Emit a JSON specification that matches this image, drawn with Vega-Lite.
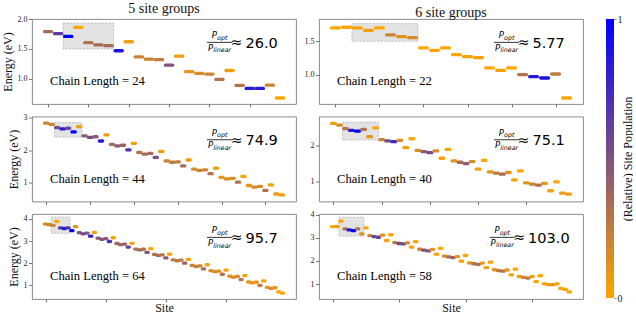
{
"$schema": "https://vega.github.io/schema/vega-lite/v6.json",
"padding": {"left": 0, "top": 0, "right": 0, "bottom": 0},
"datasets": {
"tl": [
{"site":1,"energy":1.79,"pop":0.35},{"site":2,"energy":1.756,"pop":0.65},{"site":3,"energy":1.71,"pop":1.0},{"site":4,"energy":1.86,"pop":0.0},
{"site":5,"energy":1.605,"pop":0.3},{"site":6,"energy":1.567,"pop":0.35},{"site":7,"energy":1.556,"pop":0.35},{"site":8,"energy":1.47,"pop":0.9},
{"site":9,"energy":1.62,"pop":0.05},{"site":10,"energy":1.367,"pop":0.2},{"site":11,"energy":1.33,"pop":0.2},{"site":12,"energy":1.32,"pop":0.25},
{"site":13,"energy":1.23,"pop":0.5},{"site":14,"energy":1.38,"pop":0.05},{"site":15,"energy":1.12,"pop":0.1},{"site":16,"energy":1.09,"pop":0.15},
{"site":17,"energy":1.08,"pop":0.2},{"site":18,"energy":0.99,"pop":0.3},{"site":19,"energy":1.14,"pop":0.05},{"site":20,"energy":0.89,"pop":0.3},
{"site":21,"energy":0.84,"pop":0.85},{"site":22,"energy":0.84,"pop":0.85},{"site":23,"energy":0.895,"pop":0.2},{"site":24,"energy":0.68,"pop":0.0}],
"tr": [
{"site":1,"energy":1.70,"pop":0.0},{"site":2,"energy":1.71,"pop":0.0},{"site":3,"energy":1.70,"pop":0.02},{"site":4,"energy":1.665,"pop":0.05},
{"site":5,"energy":1.70,"pop":0.0},{"site":6,"energy":1.595,"pop":0.2},{"site":7,"energy":1.57,"pop":0.12},{"site":8,"energy":1.555,"pop":0.15},
{"site":9,"energy":1.40,"pop":0.0},{"site":10,"energy":1.365,"pop":0.02},{"site":11,"energy":1.40,"pop":0.0},{"site":12,"energy":1.30,"pop":0.0},
{"site":13,"energy":1.27,"pop":0.02},{"site":14,"energy":1.255,"pop":0.03},{"site":15,"energy":1.10,"pop":0.0},{"site":16,"energy":1.065,"pop":0.02},
{"site":17,"energy":1.10,"pop":0.0},{"site":18,"energy":1.00,"pop":0.3},{"site":19,"energy":0.97,"pop":0.85},{"site":20,"energy":0.95,"pop":0.9},
{"site":21,"energy":1.01,"pop":0.25},{"site":22,"energy":0.65,"pop":0.0}],
"ml": [
{"site":1,"energy":2.825,"pop":0.2},{"site":2,"energy":2.79,"pop":0.2},{"site":3,"energy":2.69,"pop":0.55},{"site":4,"energy":2.65,"pop":0.85},
{"site":5,"energy":2.67,"pop":0.55},{"site":6,"energy":2.56,"pop":1.0},{"site":7,"energy":2.72,"pop":0.05},{"site":8,"energy":2.44,"pop":0.45},
{"site":9,"energy":2.39,"pop":0.55},{"site":10,"energy":2.41,"pop":0.45},{"site":11,"energy":2.28,"pop":0.85},{"site":12,"energy":2.47,"pop":0.05},
{"site":13,"energy":2.18,"pop":0.35},{"site":14,"energy":2.13,"pop":0.45},{"site":15,"energy":2.15,"pop":0.4},{"site":16,"energy":2.01,"pop":0.7},
{"site":17,"energy":2.21,"pop":0.05},{"site":18,"energy":1.93,"pop":0.3},{"site":19,"energy":1.88,"pop":0.35},{"site":20,"energy":1.90,"pop":0.35},
{"site":21,"energy":1.78,"pop":0.5},{"site":22,"energy":1.96,"pop":0.05},{"site":23,"energy":1.67,"pop":0.2},{"site":24,"energy":1.63,"pop":0.25},
{"site":25,"energy":1.64,"pop":0.25},{"site":26,"energy":1.52,"pop":0.35},{"site":27,"energy":1.70,"pop":0.05},{"site":28,"energy":1.42,"pop":0.15},
{"site":29,"energy":1.38,"pop":0.2},{"site":30,"energy":1.40,"pop":0.2},{"site":31,"energy":1.28,"pop":0.3},{"site":32,"energy":1.45,"pop":0.05},
{"site":33,"energy":1.17,"pop":0.1},{"site":34,"energy":1.12,"pop":0.15},{"site":35,"energy":1.14,"pop":0.15},{"site":36,"energy":1.02,"pop":0.3},
{"site":37,"energy":1.20,"pop":0.02},{"site":38,"energy":0.92,"pop":0.1},{"site":39,"energy":0.87,"pop":0.15},{"site":40,"energy":0.89,"pop":0.15},
{"site":41,"energy":0.77,"pop":0.3},{"site":42,"energy":0.94,"pop":0.02},{"site":43,"energy":0.66,"pop":0.05},{"site":44,"energy":0.63,"pop":0.05}],
"mr": [
{"site":1,"energy":2.60,"pop":0.05},{"site":2,"energy":2.555,"pop":0.15},{"site":3,"energy":2.455,"pop":0.3},{"site":4,"energy":2.41,"pop":0.85},
{"site":5,"energy":2.39,"pop":1.0},{"site":6,"energy":2.435,"pop":0.3},{"site":7,"energy":2.236,"pop":0.1},{"site":8,"energy":2.48,"pop":0.0},
{"site":9,"energy":2.155,"pop":0.2},{"site":10,"energy":2.12,"pop":0.55},{"site":11,"energy":2.10,"pop":0.75},{"site":12,"energy":2.136,"pop":0.15},
{"site":13,"energy":1.936,"pop":0.02},{"site":14,"energy":2.18,"pop":0.0},{"site":15,"energy":1.864,"pop":0.15},{"site":16,"energy":1.827,"pop":0.45},
{"site":17,"energy":1.80,"pop":0.55},{"site":18,"energy":1.845,"pop":0.15},{"site":19,"energy":1.645,"pop":0.02},{"site":20,"energy":1.89,"pop":0.0},
{"site":21,"energy":1.573,"pop":0.1},{"site":22,"energy":1.536,"pop":0.35},{"site":23,"energy":1.50,"pop":0.45},{"site":24,"energy":1.555,"pop":0.15},
{"site":25,"energy":1.345,"pop":0.02},{"site":26,"energy":1.59,"pop":0.0},{"site":27,"energy":1.27,"pop":0.1},{"site":28,"energy":1.236,"pop":0.25},
{"site":29,"energy":1.21,"pop":0.35},{"site":30,"energy":1.255,"pop":0.1},{"site":31,"energy":1.055,"pop":0.02},{"site":32,"energy":1.30,"pop":0.0},
{"site":33,"energy":0.973,"pop":0.1},{"site":34,"energy":0.936,"pop":0.2},{"site":35,"energy":0.91,"pop":0.3},{"site":36,"energy":0.955,"pop":0.1},
{"site":37,"energy":0.755,"pop":0.02},{"site":38,"energy":1.0,"pop":0.0},{"site":39,"energy":0.69,"pop":0.05},{"site":40,"energy":0.664,"pop":0.05}],
"bl": [
{"site":1,"energy":3.77,"pop":0.15},{"site":2,"energy":3.74,"pop":0.2},{"site":3,"energy":3.71,"pop":0.2},{"site":4,"energy":3.89,"pop":0.0},
{"site":5,"energy":3.60,"pop":0.65},{"site":6,"energy":3.57,"pop":0.85},{"site":7,"energy":3.60,"pop":0.7},{"site":8,"energy":3.47,"pop":1.0},
{"site":9,"energy":3.65,"pop":0.1},{"site":10,"energy":3.38,"pop":0.5},{"site":11,"energy":3.33,"pop":0.55},{"site":12,"energy":3.36,"pop":0.5},
{"site":13,"energy":3.22,"pop":0.8},{"site":14,"energy":3.39,"pop":0.05},{"site":15,"energy":3.13,"pop":0.45},{"site":16,"energy":3.08,"pop":0.5},
{"site":17,"energy":3.11,"pop":0.45},{"site":18,"energy":2.98,"pop":0.7},{"site":19,"energy":3.15,"pop":0.02},{"site":20,"energy":2.89,"pop":0.35},
{"site":21,"energy":2.84,"pop":0.4},{"site":22,"energy":2.86,"pop":0.4},{"site":23,"energy":2.73,"pop":0.6},{"site":24,"energy":2.90,"pop":0.02},
{"site":25,"energy":2.64,"pop":0.3},{"site":26,"energy":2.60,"pop":0.35},{"site":27,"energy":2.63,"pop":0.3},{"site":28,"energy":2.49,"pop":0.5},
{"site":29,"energy":2.66,"pop":0.02},{"site":30,"energy":2.40,"pop":0.3},{"site":31,"energy":2.35,"pop":0.35},{"site":32,"energy":2.38,"pop":0.3},
{"site":33,"energy":2.24,"pop":0.45},{"site":34,"energy":2.41,"pop":0.02},{"site":35,"energy":2.15,"pop":0.25},{"site":36,"energy":2.11,"pop":0.25},
{"site":37,"energy":2.14,"pop":0.25},{"site":38,"energy":2.00,"pop":0.4},{"site":39,"energy":2.17,"pop":0.02},{"site":40,"energy":1.90,"pop":0.2},
{"site":41,"energy":1.85,"pop":0.2},{"site":42,"energy":1.88,"pop":0.2},{"site":43,"energy":1.74,"pop":0.35},{"site":44,"energy":1.93,"pop":0.02},
{"site":45,"energy":1.66,"pop":0.15},{"site":46,"energy":1.62,"pop":0.15},{"site":47,"energy":1.64,"pop":0.15},{"site":48,"energy":1.50,"pop":0.3},
{"site":49,"energy":1.69,"pop":0.02},{"site":50,"energy":1.41,"pop":0.1},{"site":51,"energy":1.37,"pop":0.15},{"site":52,"energy":1.40,"pop":0.15},
{"site":53,"energy":1.26,"pop":0.3},{"site":54,"energy":1.44,"pop":0.02},{"site":55,"energy":1.15,"pop":0.1},{"site":56,"energy":1.11,"pop":0.1},
{"site":57,"energy":1.14,"pop":0.1},{"site":58,"energy":1.00,"pop":0.25},{"site":59,"energy":1.20,"pop":0.02},{"site":60,"energy":0.91,"pop":0.1},
{"site":61,"energy":0.86,"pop":0.15},{"site":62,"energy":0.89,"pop":0.1},{"site":63,"energy":0.70,"pop":0.0},{"site":64,"energy":0.65,"pop":0.0}],
"br": [
{"site":1,"energy":3.495,"pop":0.0},{"site":2,"energy":3.495,"pop":0.05},{"site":3,"energy":3.73,"pop":0.0},{"site":4,"energy":3.39,"pop":0.3},
{"site":5,"energy":3.35,"pop":0.85},{"site":6,"energy":3.32,"pop":1.0},{"site":7,"energy":3.39,"pop":0.3},{"site":8,"energy":3.18,"pop":0.1},
{"site":9,"energy":3.44,"pop":0.0},{"site":10,"energy":3.10,"pop":0.2},{"site":11,"energy":3.06,"pop":0.6},{"site":12,"energy":3.03,"pop":0.6},
{"site":13,"energy":3.12,"pop":0.1},{"site":14,"energy":2.89,"pop":0.02},{"site":15,"energy":3.14,"pop":0.0},{"site":16,"energy":2.80,"pop":0.25},
{"site":17,"energy":2.76,"pop":0.55},{"site":18,"energy":2.745,"pop":0.55},{"site":19,"energy":2.79,"pop":0.15},{"site":20,"energy":2.60,"pop":0.02},
{"site":21,"energy":2.84,"pop":0.0},{"site":22,"energy":2.51,"pop":0.2},{"site":23,"energy":2.47,"pop":0.5},{"site":24,"energy":2.44,"pop":0.5},
{"site":25,"energy":2.50,"pop":0.1},{"site":26,"energy":2.30,"pop":0.02},{"site":27,"energy":2.55,"pop":0.0},{"site":28,"energy":2.21,"pop":0.15},
{"site":29,"energy":2.18,"pop":0.35},{"site":30,"energy":2.15,"pop":0.4},{"site":31,"energy":2.19,"pop":0.1},{"site":32,"energy":1.99,"pop":0.02},
{"site":33,"energy":2.24,"pop":0.0},{"site":34,"energy":1.92,"pop":0.1},{"site":35,"energy":1.88,"pop":0.3},{"site":36,"energy":1.85,"pop":0.35},
{"site":37,"energy":1.91,"pop":0.1},{"site":38,"energy":1.71,"pop":0.02},{"site":39,"energy":1.95,"pop":0.0},{"site":40,"energy":1.62,"pop":0.1},
{"site":41,"energy":1.58,"pop":0.25},{"site":42,"energy":1.56,"pop":0.3},{"site":43,"energy":1.61,"pop":0.1},{"site":44,"energy":1.40,"pop":0.02},
{"site":45,"energy":1.65,"pop":0.0},{"site":46,"energy":1.33,"pop":0.05},{"site":47,"energy":1.29,"pop":0.2},{"site":48,"energy":1.26,"pop":0.25},
{"site":49,"energy":1.32,"pop":0.05},{"site":50,"energy":1.10,"pop":0.0},{"site":51,"energy":1.36,"pop":0.0},{"site":52,"energy":1.01,"pop":0.02},
{"site":53,"energy":0.97,"pop":0.05},{"site":54,"energy":0.97,"pop":0.1},{"site":55,"energy":1.01,"pop":0.02},{"site":56,"energy":0.81,"pop":0.0},
{"site":57,"energy":0.77,"pop":0.0},{"site":58,"energy":0.66,"pop":0.0}]
},
"spacing": 22,
"hconcat": [
{"columns": 2, "bounds": "flush", "spacing": {"row": 12.5, "column": 23},
 "concat": [
 {"width": 264, "height": 85, "title": {"text": "5 site groups"},
  "layer": [
   {"data": {"values": [{}]}, "mark": {"type": "rect", "fill": "#e3e3e3", "stroke": "#a0a0a0", "strokeDash": [2, 1.5], "strokeWidth": 0.6},
    "encoding": {"x": {"datum": 2.5}, "x2": {"datum": 7.5}, "y": {"datum": 1.5}, "y2": {"datum": 1.933}}},
   {"data": {"name": "tl"}, "mark": {"type": "tick", "orient": "horizontal", "size": 10.5, "thickness": 3.3, "cornerRadius": 1.6, "opacity": 1},
    "encoding": {
     "x": {"field": "site", "type": "quantitative", "scale": {"domain": [-0.59, 25.59], "nice": false, "zero": false}, "axis": {"values": [1,2,3,4,5,6,7,8,9,10,11,12,13,14,15,16,17,18,19,20,21,22,23,24], "labels": false, "title": null}},
     "y": {"field": "energy", "type": "quantitative", "scale": {"domain": [0.58, 2.0], "nice": false, "zero": false}, "axis": {"values": [1.0, 1.5, 2.0], "format": ".1f", "title": "Energy (eV)", "labelOverlap": false}},
     "color": {"field": "pop", "type": "quantitative", "scale": {"domain": [0, 1], "range": ["#ffa500", "#0000ff"], "interpolate": "rgb"}, "legend": null}}},
   {"data": {"values": [{}]}, "mark": {"type": "text", "text": "Chain Length = 24", "font": "Liberation Serif", "fontSize": 12.6, "align": "left", "baseline": "alphabetic", "color": "#000"},
    "encoding": {"x": {"datum": 1.195}, "y": {"datum": 0.892}}},
   {"data": {"values": [{}]}, "encoding": {"x": {"datum": 18.0}, "y": {"datum": 1.611}},
    "layer": [
     {"mark": {"type": "tick", "orient": "horizontal", "size": 25, "thickness": 0.8, "color": "#000", "opacity": 1}},
     {"mark": {"type": "text", "text": "P", "font": "DejaVu Sans", "fontStyle": "italic", "fontSize": 8.5, "align": "left", "baseline": "alphabetic", "dx": -7.7, "dy": -4, "color": "#000"}},
     {"mark": {"type": "text", "text": "opt", "font": "DejaVu Sans", "fontStyle": "italic", "fontSize": 6.3, "align": "left", "baseline": "alphabetic", "dx": -2.4, "dy": -2.5, "color": "#000"}},
     {"mark": {"type": "text", "text": "P", "font": "DejaVu Sans", "fontStyle": "italic", "fontSize": 8.5, "align": "left", "baseline": "alphabetic", "dx": -11.5, "dy": 8.6, "color": "#000"}},
     {"mark": {"type": "text", "text": "linear", "font": "DejaVu Sans", "fontStyle": "italic", "fontSize": 6.3, "align": "left", "baseline": "alphabetic", "dx": -6.2, "dy": 10.2, "color": "#000"}},
     {"mark": {"type": "text", "text": "≈", "font": "DejaVu Sans", "fontSize": 14, "align": "center", "baseline": "alphabetic", "dx": 17, "dy": 5, "color": "#000"}},
     {"mark": {"type": "text", "text": "26.0", "font": "DejaVu Sans", "fontSize": 14.5, "align": "left", "baseline": "alphabetic", "dx": 26, "dy": 5.5, "color": "#000"}}
    ]}
  ]},
 {"width": 264, "height": 85, "title": {"text": "6 site groups"},
  "layer": [
   {"data": {"values": [{}]}, "mark": {"type": "rect", "fill": "#e3e3e3", "stroke": "#a0a0a0", "strokeDash": [2, 1.5], "strokeWidth": 0.6},
    "encoding": {"x": {"datum": 2.5}, "x2": {"datum": 8.5}, "y": {"datum": 1.5}, "y2": {"datum": 1.765}}},
   {"data": {"name": "tr"}, "mark": {"type": "tick", "orient": "horizontal", "size": 11, "thickness": 3.3, "cornerRadius": 1.6, "opacity": 1},
    "encoding": {
     "x": {"field": "site", "type": "quantitative", "scale": {"domain": [-0.49, 23.49], "nice": false, "zero": false}, "axis": {"values": [1,2,3,4,5,6,7,8,9,10,11,12,13,14,15,16,17,18,19,20,21,22], "labels": false, "title": null}},
     "y": {"field": "energy", "type": "quantitative", "scale": {"domain": [0.56, 1.834], "nice": false, "zero": false}, "axis": {"values": [1.0, 1.5], "format": ".1f", "title": null, "labelOverlap": false}},
     "color": {"field": "pop", "type": "quantitative", "scale": {"domain": [0, 1], "range": ["#ffa500", "#0000ff"], "interpolate": "rgb"}, "legend": null}}},
   {"data": {"values": [{}]}, "mark": {"type": "text", "text": "Chain Length = 22", "font": "Liberation Serif", "fontSize": 12.6, "align": "left", "baseline": "alphabetic", "color": "#000"},
    "encoding": {"x": {"datum": 1.145}, "y": {"datum": 0.840}}},
   {"data": {"values": [{}]}, "encoding": {"x": {"datum": 16.54}, "y": {"datum": 1.485}},
    "layer": [
     {"mark": {"type": "tick", "orient": "horizontal", "size": 25, "thickness": 0.8, "color": "#000", "opacity": 1}},
     {"mark": {"type": "text", "text": "P", "font": "DejaVu Sans", "fontStyle": "italic", "fontSize": 8.5, "align": "left", "baseline": "alphabetic", "dx": -7.7, "dy": -4, "color": "#000"}},
     {"mark": {"type": "text", "text": "opt", "font": "DejaVu Sans", "fontStyle": "italic", "fontSize": 6.3, "align": "left", "baseline": "alphabetic", "dx": -2.4, "dy": -2.5, "color": "#000"}},
     {"mark": {"type": "text", "text": "P", "font": "DejaVu Sans", "fontStyle": "italic", "fontSize": 8.5, "align": "left", "baseline": "alphabetic", "dx": -11.5, "dy": 8.6, "color": "#000"}},
     {"mark": {"type": "text", "text": "linear", "font": "DejaVu Sans", "fontStyle": "italic", "fontSize": 6.3, "align": "left", "baseline": "alphabetic", "dx": -6.2, "dy": 10.2, "color": "#000"}},
     {"mark": {"type": "text", "text": "≈", "font": "DejaVu Sans", "fontSize": 14, "align": "center", "baseline": "alphabetic", "dx": 17, "dy": 5, "color": "#000"}},
     {"mark": {"type": "text", "text": "5.77", "font": "DejaVu Sans", "fontSize": 14.5, "align": "left", "baseline": "alphabetic", "dx": 26, "dy": 5.5, "color": "#000"}}
    ]}
  ]},
 {"width": 264, "height": 85,
  "layer": [
   {"data": {"values": [{}]}, "mark": {"type": "rect", "fill": "#e3e3e3", "stroke": "#a0a0a0", "strokeDash": [2, 1.5], "strokeWidth": 0.6},
    "encoding": {"x": {"datum": 2.5}, "x2": {"datum": 7.5}, "y": {"datum": 2.40}, "y2": {"datum": 2.845}}},
   {"data": {"name": "ml"}, "mark": {"type": "tick", "orient": "horizontal", "size": 6.5, "thickness": 3.3, "cornerRadius": 1.6, "opacity": 1},
    "encoding": {
     "x": {"field": "site", "type": "quantitative", "scale": {"domain": [-1.59, 46.59], "nice": false, "zero": false}, "axis": {"values": [1,2,3,4,5,6,7,8,9,10,11,12,13,14,15,16,17,18,19,20,21,22,23,24,25,26,27,28,29,30,31,32,33,34,35,36,37,38,39,40,41,42,43,44], "labels": false, "title": null}},
     "y": {"field": "energy", "type": "quantitative", "scale": {"domain": [0.43, 3.03], "nice": false, "zero": false}, "axis": {"values": [1, 2, 3], "format": "d", "title": "Energy (eV)", "labelOverlap": false}},
     "color": {"field": "pop", "type": "quantitative", "scale": {"domain": [0, 1], "range": ["#ffa500", "#0000ff"], "interpolate": "rgb"}, "legend": null}}},
   {"data": {"values": [{}]}, "mark": {"type": "text", "text": "Chain Length = 44", "font": "Liberation Serif", "fontSize": 12.6, "align": "left", "baseline": "alphabetic", "color": "#000"},
    "encoding": {"x": {"datum": 1.695}, "y": {"datum": 1.002}}},
   {"data": {"values": [{}]}, "encoding": {"x": {"datum": 32.63}, "y": {"datum": 2.317}},
    "layer": [
     {"mark": {"type": "tick", "orient": "horizontal", "size": 25, "thickness": 0.8, "color": "#000", "opacity": 1}},
     {"mark": {"type": "text", "text": "P", "font": "DejaVu Sans", "fontStyle": "italic", "fontSize": 8.5, "align": "left", "baseline": "alphabetic", "dx": -7.7, "dy": -4, "color": "#000"}},
     {"mark": {"type": "text", "text": "opt", "font": "DejaVu Sans", "fontStyle": "italic", "fontSize": 6.3, "align": "left", "baseline": "alphabetic", "dx": -2.4, "dy": -2.5, "color": "#000"}},
     {"mark": {"type": "text", "text": "P", "font": "DejaVu Sans", "fontStyle": "italic", "fontSize": 8.5, "align": "left", "baseline": "alphabetic", "dx": -11.5, "dy": 8.6, "color": "#000"}},
     {"mark": {"type": "text", "text": "linear", "font": "DejaVu Sans", "fontStyle": "italic", "fontSize": 6.3, "align": "left", "baseline": "alphabetic", "dx": -6.2, "dy": 10.2, "color": "#000"}},
     {"mark": {"type": "text", "text": "≈", "font": "DejaVu Sans", "fontSize": 14, "align": "center", "baseline": "alphabetic", "dx": 17, "dy": 5, "color": "#000"}},
     {"mark": {"type": "text", "text": "74.9", "font": "DejaVu Sans", "fontSize": 14.5, "align": "left", "baseline": "alphabetic", "dx": 26, "dy": 5.5, "color": "#000"}}
    ]}
  ]},
 {"width": 264, "height": 85,
  "layer": [
   {"data": {"values": [{}]}, "mark": {"type": "rect", "fill": "#e3e3e3", "stroke": "#a0a0a0", "strokeDash": [2, 1.5], "strokeWidth": 0.6},
    "encoding": {"x": {"datum": 2.5}, "x2": {"datum": 8.5}, "y": {"datum": 2.145}, "y2": {"datum": 2.636}}},
   {"data": {"name": "mr"}, "mark": {"type": "tick", "orient": "horizontal", "size": 7, "thickness": 3.3, "cornerRadius": 1.6, "opacity": 1},
    "encoding": {
     "x": {"field": "site", "type": "quantitative", "scale": {"domain": [-1.39, 42.39], "nice": false, "zero": false}, "axis": {"values": [1,2,3,4,5,6,7,8,9,10,11,12,13,14,15,16,17,18,19,20,21,22,23,24,25,26,27,28,29,30,31,32,33,34,35,36,37,38,39,40], "labels": false, "title": null}},
     "y": {"field": "energy", "type": "quantitative", "scale": {"domain": [0.46, 2.79], "nice": false, "zero": false}, "axis": {"values": [1, 2], "format": "d", "title": null, "labelOverlap": false}},
     "color": {"field": "pop", "type": "quantitative", "scale": {"domain": [0, 1], "range": ["#ffa500", "#0000ff"], "interpolate": "rgb"}, "legend": null}}},
   {"data": {"values": [{}]}, "mark": {"type": "text", "text": "Chain Length = 40", "font": "Liberation Serif", "fontSize": 12.6, "align": "left", "baseline": "alphabetic", "color": "#000"},
    "encoding": {"x": {"datum": 1.595}, "y": {"datum": 0.973}}},
   {"data": {"values": [{}]}, "encoding": {"x": {"datum": 29.70}, "y": {"datum": 2.151}},
    "layer": [
     {"mark": {"type": "tick", "orient": "horizontal", "size": 25, "thickness": 0.8, "color": "#000", "opacity": 1}},
     {"mark": {"type": "text", "text": "P", "font": "DejaVu Sans", "fontStyle": "italic", "fontSize": 8.5, "align": "left", "baseline": "alphabetic", "dx": -7.7, "dy": -4, "color": "#000"}},
     {"mark": {"type": "text", "text": "opt", "font": "DejaVu Sans", "fontStyle": "italic", "fontSize": 6.3, "align": "left", "baseline": "alphabetic", "dx": -2.4, "dy": -2.5, "color": "#000"}},
     {"mark": {"type": "text", "text": "P", "font": "DejaVu Sans", "fontStyle": "italic", "fontSize": 8.5, "align": "left", "baseline": "alphabetic", "dx": -11.5, "dy": 8.6, "color": "#000"}},
     {"mark": {"type": "text", "text": "linear", "font": "DejaVu Sans", "fontStyle": "italic", "fontSize": 6.3, "align": "left", "baseline": "alphabetic", "dx": -6.2, "dy": 10.2, "color": "#000"}},
     {"mark": {"type": "text", "text": "≈", "font": "DejaVu Sans", "fontSize": 14, "align": "center", "baseline": "alphabetic", "dx": 17, "dy": 5, "color": "#000"}},
     {"mark": {"type": "text", "text": "75.1", "font": "DejaVu Sans", "fontSize": 14.5, "align": "left", "baseline": "alphabetic", "dx": 26, "dy": 5.5, "color": "#000"}}
    ]}
  ]},
 {"width": 264, "height": 85,
  "layer": [
   {"data": {"values": [{}]}, "mark": {"type": "rect", "fill": "#e3e3e3", "stroke": "#a0a0a0", "strokeDash": [2, 1.5], "strokeWidth": 0.6},
    "encoding": {"x": {"datum": 2.5}, "x2": {"datum": 7.5}, "y": {"datum": 3.35, "axis": {"values": [1, 2, 3, 4], "format": "d", "title": "Energy (eV)", "labelOverlap": false}}, "y2": {"datum": 4.09}}},
   {"data": {"name": "bl"}, "mark": {"type": "tick", "orient": "horizontal", "size": 5.5, "thickness": 3.3, "cornerRadius": 1.6, "opacity": 1},
    "encoding": {
     "x": {"field": "site", "type": "quantitative", "scale": {"domain": [-2.59, 67.59], "nice": false, "zero": false}, "axis": {"values": [1,2,3,4,5,6,7,8,9,10,11,12,13,14,15,16,17,18,19,20,21,22,23,24,25,26,27,28,29,30,31,32,33,34,35,36,37,38,39,40,41,42,43,44,45,46,47,48,49,50,51,52,53,54,55,56,57,58,59,60,61,62,63,64], "labels": false, "title": "Site"}},
     "y": {"field": "energy", "type": "quantitative", "scale": {"domain": [0.38, 4.225], "nice": false, "zero": false}, "axis": {"values": [1, 2, 3, 4], "format": "d", "title": "Energy (eV)", "labelOverlap": false}},
     "color": {"field": "pop", "type": "quantitative", "scale": {"domain": [0, 1], "range": ["#ffa500", "#0000ff"], "interpolate": "rgb"}, "legend": null}}},
   {"data": {"values": [{}]}, "mark": {"type": "text", "text": "Chain Length = 64", "font": "Liberation Serif", "fontSize": 12.6, "align": "left", "baseline": "alphabetic", "color": "#000"},
    "encoding": {"x": {"datum": 2.195}, "y": {"datum": 1.226, "axis": {"values": [1, 2, 3, 4], "format": "d", "title": "Energy (eV)", "labelOverlap": false}}}},
   {"data": {"values": [{}]}, "encoding": {"x": {"datum": 47.25}, "y": {"datum": 3.171, "axis": {"values": [1, 2, 3, 4], "format": "d", "title": "Energy (eV)", "labelOverlap": false}}},
    "layer": [
     {"mark": {"type": "tick", "orient": "horizontal", "size": 25, "thickness": 0.8, "color": "#000", "opacity": 1}},
     {"mark": {"type": "text", "text": "P", "font": "DejaVu Sans", "fontStyle": "italic", "fontSize": 8.5, "align": "left", "baseline": "alphabetic", "dx": -7.7, "dy": -4, "color": "#000"}},
     {"mark": {"type": "text", "text": "opt", "font": "DejaVu Sans", "fontStyle": "italic", "fontSize": 6.3, "align": "left", "baseline": "alphabetic", "dx": -2.4, "dy": -2.5, "color": "#000"}},
     {"mark": {"type": "text", "text": "P", "font": "DejaVu Sans", "fontStyle": "italic", "fontSize": 8.5, "align": "left", "baseline": "alphabetic", "dx": -11.5, "dy": 8.6, "color": "#000"}},
     {"mark": {"type": "text", "text": "linear", "font": "DejaVu Sans", "fontStyle": "italic", "fontSize": 6.3, "align": "left", "baseline": "alphabetic", "dx": -6.2, "dy": 10.2, "color": "#000"}},
     {"mark": {"type": "text", "text": "≈", "font": "DejaVu Sans", "fontSize": 14, "align": "center", "baseline": "alphabetic", "dx": 17, "dy": 5, "color": "#000"}},
     {"mark": {"type": "text", "text": "95.7", "font": "DejaVu Sans", "fontSize": 14.5, "align": "left", "baseline": "alphabetic", "dx": 26, "dy": 5.5, "color": "#000"}}
    ]}
  ]},
 {"width": 264, "height": 85,
  "layer": [
   {"data": {"values": [{}]}, "mark": {"type": "rect", "fill": "#e3e3e3", "stroke": "#a0a0a0", "strokeDash": [2, 1.5], "strokeWidth": 0.6},
    "encoding": {"x": {"datum": 2.5}, "x2": {"datum": 8.5}, "y": {"datum": 3.08, "axis": {"values": [1, 2, 3, 4], "format": "d", "title": null, "labelOverlap": false}}, "y2": {"datum": 3.90}}},
   {"data": {"name": "br"}, "mark": {"type": "tick", "orient": "horizontal", "size": 5.7, "thickness": 3.3, "cornerRadius": 1.6, "opacity": 1},
    "encoding": {
     "x": {"field": "site", "type": "quantitative", "scale": {"domain": [-2.29, 61.29], "nice": false, "zero": false}, "axis": {"values": [1,2,3,4,5,6,7,8,9,10,11,12,13,14,15,16,17,18,19,20,21,22,23,24,25,26,27,28,29,30,31,32,33,34,35,36,37,38,39,40,41,42,43,44,45,46,47,48,49,50,51,52,53,54,55,56,57,58], "labels": false, "title": "Site"}},
     "y": {"field": "energy", "type": "quantitative", "scale": {"domain": [0.35, 4.04], "nice": false, "zero": false}, "axis": {"values": [1, 2, 3, 4], "format": "d", "title": null, "labelOverlap": false}},
     "color": {"field": "pop", "type": "quantitative", "scale": {"domain": [0, 1], "range": ["#ffa500", "#0000ff"], "interpolate": "rgb"}, "legend": null}}},
   {"data": {"values": [{}]}, "mark": {"type": "text", "text": "Chain Length = 58", "font": "Liberation Serif", "fontSize": 12.6, "align": "left", "baseline": "alphabetic", "color": "#000"},
    "encoding": {"x": {"datum": 2.045}, "y": {"datum": 1.162, "axis": {"values": [1, 2, 3, 4], "format": "d", "title": null, "labelOverlap": false}}}},
   {"data": {"values": [{}]}, "encoding": {"x": {"datum": 41.81}, "y": {"datum": 3.029, "axis": {"values": [1, 2, 3, 4], "format": "d", "title": null, "labelOverlap": false}}},
    "layer": [
     {"mark": {"type": "tick", "orient": "horizontal", "size": 25, "thickness": 0.8, "color": "#000", "opacity": 1}},
     {"mark": {"type": "text", "text": "P", "font": "DejaVu Sans", "fontStyle": "italic", "fontSize": 8.5, "align": "left", "baseline": "alphabetic", "dx": -7.7, "dy": -4, "color": "#000"}},
     {"mark": {"type": "text", "text": "opt", "font": "DejaVu Sans", "fontStyle": "italic", "fontSize": 6.3, "align": "left", "baseline": "alphabetic", "dx": -2.4, "dy": -2.5, "color": "#000"}},
     {"mark": {"type": "text", "text": "P", "font": "DejaVu Sans", "fontStyle": "italic", "fontSize": 8.5, "align": "left", "baseline": "alphabetic", "dx": -11.5, "dy": 8.6, "color": "#000"}},
     {"mark": {"type": "text", "text": "linear", "font": "DejaVu Sans", "fontStyle": "italic", "fontSize": 6.3, "align": "left", "baseline": "alphabetic", "dx": -6.2, "dy": 10.2, "color": "#000"}},
     {"mark": {"type": "text", "text": "≈", "font": "DejaVu Sans", "fontSize": 14, "align": "center", "baseline": "alphabetic", "dx": 17, "dy": 5, "color": "#000"}},
     {"mark": {"type": "text", "text": "103.0", "font": "DejaVu Sans", "fontSize": 14.5, "align": "left", "baseline": "alphabetic", "dx": 26, "dy": 5.5, "color": "#000"}}
    ]}
  ]}
 ]},
{"width": 8, "height": 279, "title": {"text": " "},
 "view": {"stroke": null},
 "data": {"values": [{"lo": 0, "hi": 1}]},
 "mark": {"type": "rect", "stroke": null, "fill": {"gradient": "linear", "x1": 0, "y1": 1, "x2": 0, "y2": 0, "stops": [{"offset": 0, "color": "#ffa500"}, {"offset": 1, "color": "#0000ff"}]}},
 "encoding": {
  "y": {"field": "lo", "type": "quantitative", "scale": {"domain": [0, 1], "nice": false, "zero": false},
        "axis": {"orient": "right", "values": [0, 1], "format": "d", "title": "(Relative) Site Population", "titleAngle": 270, "titleBaseline": "top", "labelFontSize": 10, "labelPadding": 1, "tickSize": 2, "titleFontSize": 12, "titlePadding": 0, "labelOverlap": false}},
  "y2": {"field": "hi"}
 }}
],
"config": {
 "view": {"stroke": "#7f7f7f", "strokeWidth": 0.9},
 "axis": {"grid": false, "domain": false, "labelOverlap": false, "tickColor": "#555555", "tickWidth": 0.8, "labelFont": "Liberation Serif", "labelFontSize": 8, "labelColor": "#222222", "labelPadding": 1.5, "titleFont": "Liberation Serif", "titleFontSize": 12, "titleFontWeight": "normal", "titleColor": "#111111", "titlePadding": 3},
 "axisY": {"tickSize": 3.5, "labelOverlap": false},
 "axisX": {"tickSize": 3, "titlePadding": 0},
 "title": {"font": "Liberation Serif", "fontSize": 14, "fontWeight": "normal", "color": "#111111", "offset": 0, "dy": 4.5, "anchor": "middle"}
}
}
